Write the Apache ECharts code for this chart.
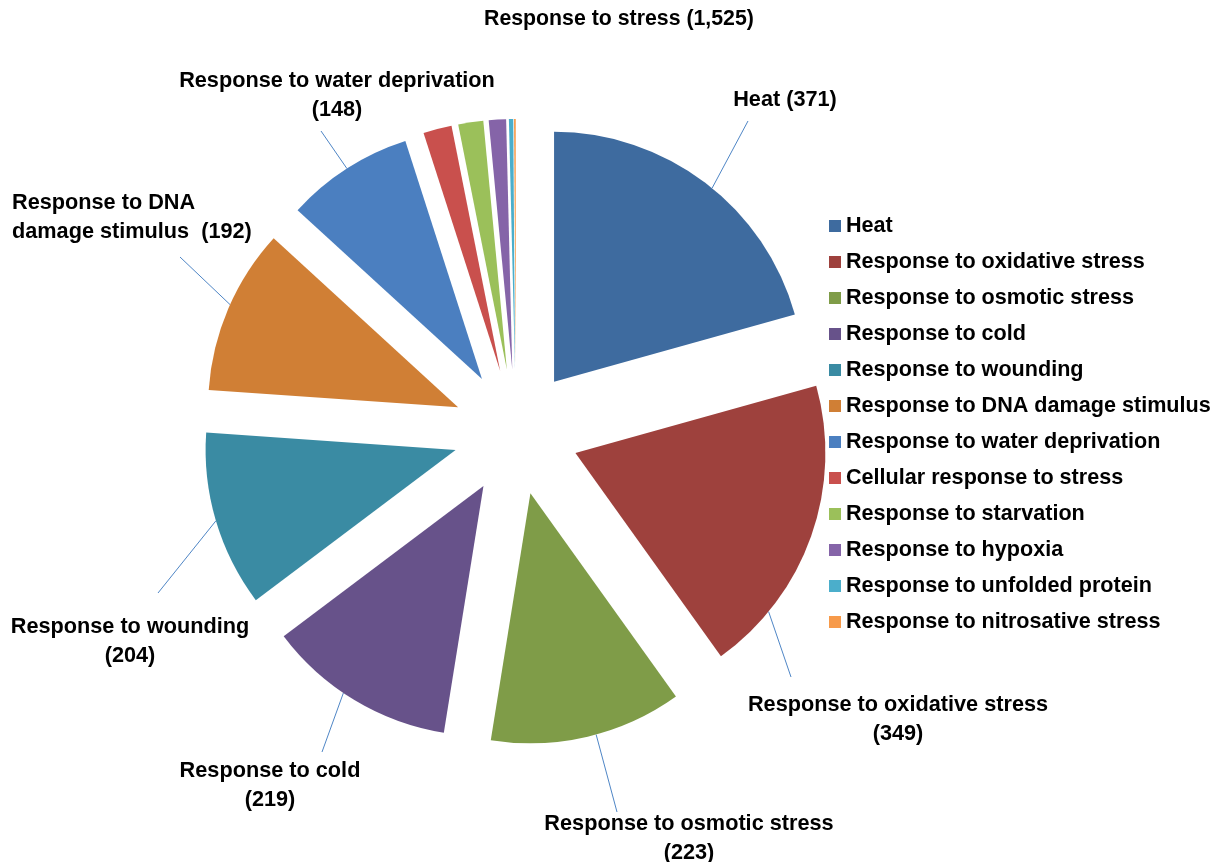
<!DOCTYPE html>
<html><head><meta charset="utf-8">
<script src="https://cdn.jsdelivr.net/npm/echarts@6/dist/echarts.min.js"></script>
<style>html,body{margin:0;padding:0;background:#fff}#c{width:1213px;height:862px}</style>
</head><body><div id="c"></div>
<script>
const titleText = 'Response to stress (1,525)';
const categories = ['Heat','Response to oxidative stress','Response to osmotic stress','Response to cold','Response to wounding','Response to DNA damage stimulus','Response to water deprivation','Cellular response to stress','Response to starvation','Response to hypoxia','Response to unfolded protein','Response to nitrosative stress'];
const values = [371, 349, 223, 219, 204, 192, 148, 33, 29, 20, 5, 2];
const colors = ['#3E6B9F','#9E413D','#7F9C48','#67528A','#3A8BA3','#D07F35','#4B7FC0','#C9504D','#9BC05A','#8564A8','#4BAECB','#F79A4A'];
const labelFormats = ['{b} ({c})','{b}\n({c})','{b}\n({c})','{b}\n({c})','{b}\n({c})','Response to DNA\ndamage stimulus  ({c})','{b}\n({c})',null,null,null,null,null];

// layout constants
const CX = 516, CY = 432, R = 250, EXPLODE = 63;
// label anchor (x,y), leader-line end offset (ex,ey), start angle tweak (da, degrees)
const labelPos = [
  {x: 785, y: 100, align: 'center', ex: -37,  ey: 21,  da: 2},
  {x: 898, y: 720, align: 'center', ex: -107, ey: -43, da: 20},
  {x: 689, y: 839, align: 'center', ex: -72,  ey: -27, da: -2},
  {x: 270, y: 786, align: 'center', ex: 52,   ey: -34, da: 3},
  {x: 130, y: 642, align: 'center', ex: 28,   ey: -49, da: 0},
  {x: 12,  y: 218, align: 'left',   ex: 168,  ey: 39,  da: 1},
  {x: 337, y: 96,  align: 'center', ex: -16,  ey: 35,  da: 0}
];

const font = "'Liberation Sans', Arial, sans-serif";
const chart = echarts.init(document.getElementById('c'), null, {renderer: 'canvas'});

const total = values.reduce((a, b) => a + b, 0);
function midAngleOf(i) {
  let cum = 0;
  for (let k = 0; k < i; k++) cum += values[k];
  const deg = -90 + (cum + values[i] / 2) / total * 360;
  return deg * Math.PI / 180;
}

const sliceData = categories.map((name, i) => ({
  name: name, value: values[i], selected: true,
  itemStyle: {color: colors[i]}
}));
const labelData = categories.map((name, i) => ({
  name: name, value: values[i],
  itemStyle: {color: 'rgba(0,0,0,0)'},
  label: labelFormats[i] ? {show: true, formatter: labelFormats[i]} : {show: false},
  labelLine: {show: !!labelFormats[i]}
}));

chart.setOption({
  animation: false,
  backgroundColor: '#ffffff',
  title: {
    text: titleText,
    left: 479, top: 4,
    textStyle: {fontFamily: font, fontSize: 21.3, fontWeight: 'bold', color: '#000'}
  },
  legend: {
    orient: 'vertical',
    left: 829, top: 214, padding: 0,
    itemWidth: 12, itemHeight: 12, itemGap: 12,
    icon: 'rect',
    selectedMode: false,
    data: categories,
    textStyle: {fontFamily: font, fontSize: 21.6, fontWeight: 'bold', color: '#000', lineHeight: 24}
  },
  series: [{
    type: 'pie',
    center: [CX, CY],
    radius: R,
    startAngle: 90,
    clockwise: true,
    selectedMode: 'multiple',
    selectedOffset: EXPLODE,
    silent: true,
    emphasis: {disabled: true},
    label: {show: false},
    labelLine: {show: false},
    data: sliceData
  }, {
    type: 'pie',
    center: [CX, CY],
    radius: R,
    startAngle: 90,
    clockwise: true,
    silent: true,
    avoidLabelOverlap: false,
    emphasis: {disabled: true},
    label: {
      position: 'outside',
      fontFamily: font, fontSize: 21.7, fontWeight: 'bold', color: '#000',
      lineHeight: 29
    },
    labelLine: {show: true, length: 10, length2: 0, lineStyle: {color: '#4F86C6', width: 1}},
    labelLayout: function (p) {
      const lp = labelPos[p.dataIndex];
      if (!lp) return {};
      let a;
      const pts = p.labelLinePoints;
      if (pts && pts[0]) a = Math.atan2(pts[0][1] - CY, pts[0][0] - CX);
      else a = midAngleOf(p.dataIndex);
      const ecx = CX + EXPLODE * Math.cos(a), ecy = CY + EXPLODE * Math.sin(a);
      const b = a + lp.da * Math.PI / 180;
      const start = [ecx + R * Math.cos(b), ecy + R * Math.sin(b)];
      const end = [lp.x + lp.ex, lp.y + lp.ey];
      return {x: lp.x, y: lp.y, align: lp.align, verticalAlign: 'middle',
              labelLinePoints: [start, end, end]};
    },
    data: labelData
  }]
});
</script>
</body></html>
